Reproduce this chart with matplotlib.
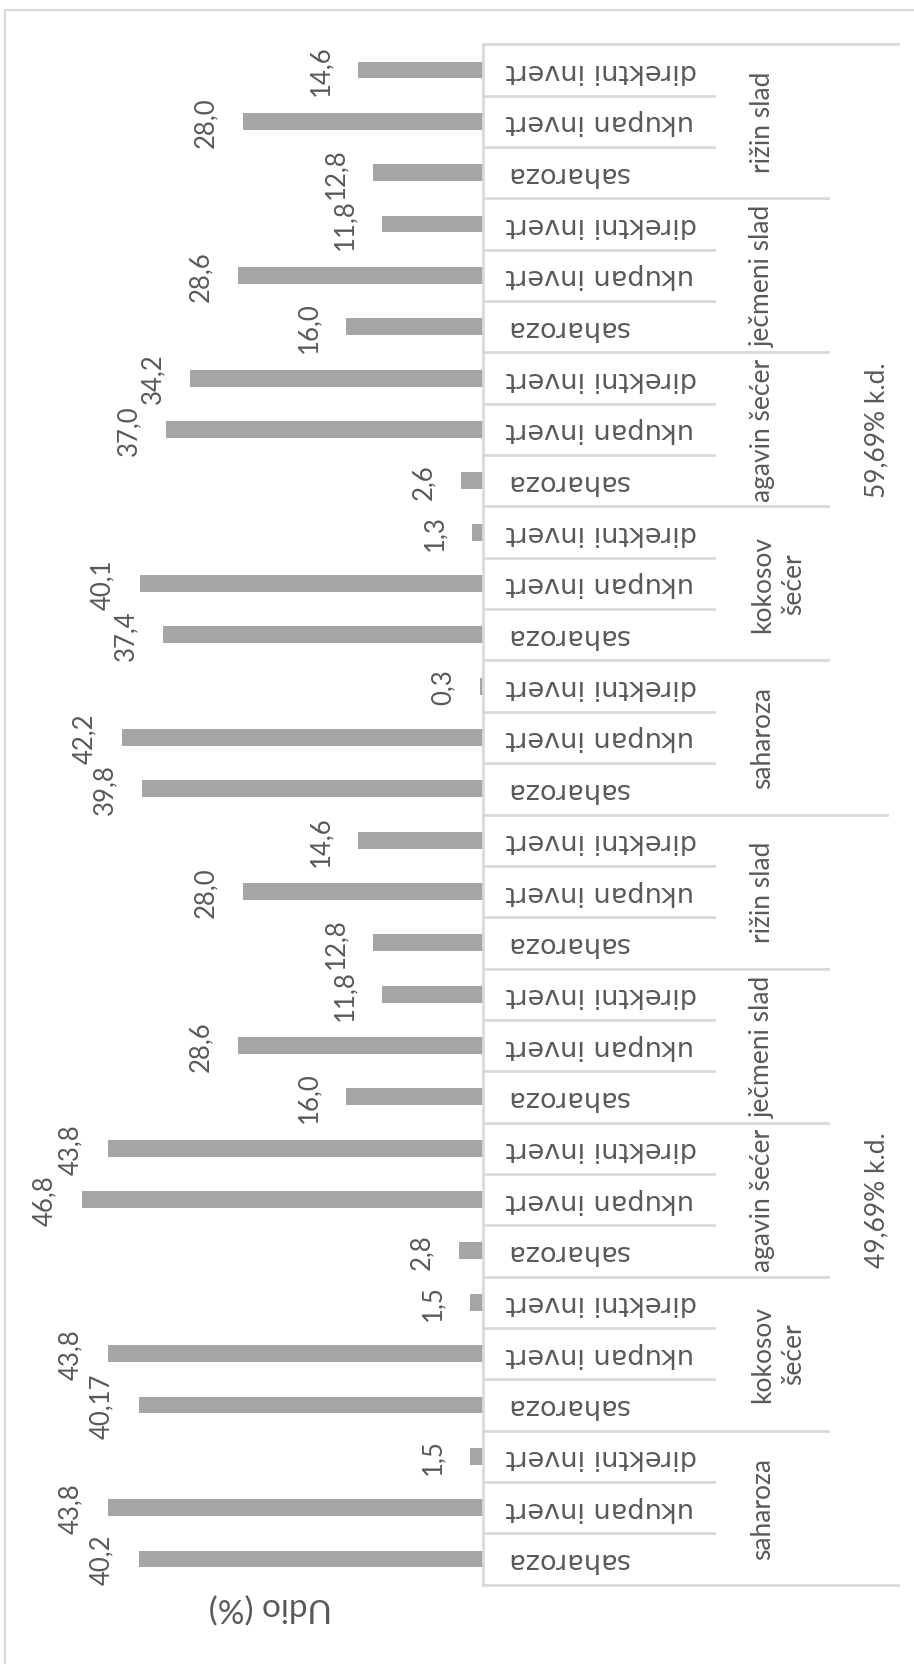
import matplotlib
matplotlib.use("Agg")
import matplotlib.pyplot as plt
import matplotlib.transforms as mtransforms
from matplotlib.lines import Line2D
from matplotlib.patches import Rectangle

# chart data (bottom to top, chart is shown rotated 90 degrees)
concentrations = ["49,69% k.d.", "59,69% k.d."]
sugars = ["saharoza", "kokosov\nšećer", "agavin šećer", "ječmeni slad", "rižin slad"]
measures = ["saharoza", "ukupan invert", "direktni invert"]

values_4969 = [40.2, 43.8, 1.5, 40.17, 43.8, 1.5, 2.8, 46.8, 43.8, 16.0, 28.6, 11.8, 12.8, 28.0, 14.6]
values_5969 = [39.8, 42.2, 0.3, 37.4, 40.1, 1.3, 2.6, 37.0, 34.2, 16.0, 28.6, 11.8, 12.8, 28.0, 14.6]
labels_4969 = ["40,2", "43,8", "1,5", "40,17", "43,8", "1,5", "2,8", "46,8", "43,8",
               "16,0", "28,6", "11,8", "12,8", "28,0", "14,6"]
labels_5969 = ["39,8", "42,2", "0,3", "37,4", "40,1", "1,3", "2,6", "37,0", "34,2",
               "16,0", "28,6", "11,8", "12,8", "28,0", "14,6"]
axis_title = "Udio (%)"

values = values_4969 + values_5969
labels = labels_4969 + labels_5969
cat_names = measures * (len(sugars) * len(concentrations))
n = len(values)

W, H = 914, 1665
fig = plt.figure(figsize=(W / 100, H / 100), dpi=100)
fig.patch.set_facecolor("white")

# chart area border (only top and left visible in the crop)
fig.patches.append(Rectangle((5 / W, -0.1), 1.2, 1 - 11 / H + 0.1, transform=fig.transFigure,
                             fill=False, edgecolor="#d9d9d9", linewidth=1.5))

ax = fig.add_axes([55 / W, 1 - 1585.7 / H, (483 - 55) / W, (1585.7 - 45.3) / H])
pos = list(range(n))
ax.barh(pos, values, height=0.33, color="#a5a5a5")
ax.set_xlim(50, 0)
ax.set_ylim(-0.5, n - 0.5)
for s in ["top", "bottom", "left"]:
    ax.spines[s].set_visible(False)
ax.spines["right"].set_color("#d9d9d9")
ax.spines["right"].set_linewidth(2)
ax.set_xticks([])
ax.set_yticks([])

txt_col = "#595959"

# data labels
for p, v, lab in zip(pos, values, labels):
    ax.annotate(lab, xy=(v, p), xytext=(-25, 0), textcoords="offset pixels",
                rotation=90, ha="right", va="center", fontsize=18.5,
                family="Lato", color=txt_col)

# category labels (upside down)
for p, name in zip(pos, cat_names):
    ax.annotate(name, xy=(0, p), xytext=(23, 0), textcoords="offset pixels",
                rotation=180, ha="left", va="center", fontsize=19.5,
                family="DejaVu Sans", color=txt_col)

# sugar labels
per_sugar = len(measures)
for g in range(len(sugars) * len(concentrations)):
    name = sugars[g % len(sugars)]
    centre = g * per_sugar + (per_sugar - 1) / 2
    ax.annotate(name, xy=(0, centre), xytext=(267, 0), textcoords="offset pixels",
                rotation=90, ha="left", va="center", fontsize=19,
                family="Lato", color=txt_col, multialignment="center", linespacing=1.3)

# concentration labels
per_conc = per_sugar * len(sugars)
for c, name in enumerate(concentrations):
    centre = c * per_conc + (per_conc - 1) / 2
    ax.annotate(name, xy=(0, centre), xytext=(394, 0), textcoords="offset pixels",
                rotation=90, ha="center", va="center", fontsize=19,
                family="Lato", color=txt_col)

# multi-level axis separators
trans = mtransforms.blended_transform_factory(fig.transFigure, ax.transData)
for i in range(n + 1):
    if i == 0 or i == n:
        end = 898
    elif i % per_conc == 0:
        end = 887
    elif i % per_sugar == 0:
        end = 828
    else:
        end = 714
    ax.add_line(Line2D([483 / W, end / W], [i - 0.5, i - 0.5], transform=trans,
                       color="#d9d9d9", linewidth=2, clip_on=False))

fig.text(270 / W, 1 - 1607 / H, axis_title, rotation=180, ha="center", va="center",
         fontsize=24, family="Lato", color=txt_col)

fig.savefig("out.png", dpi=100)
